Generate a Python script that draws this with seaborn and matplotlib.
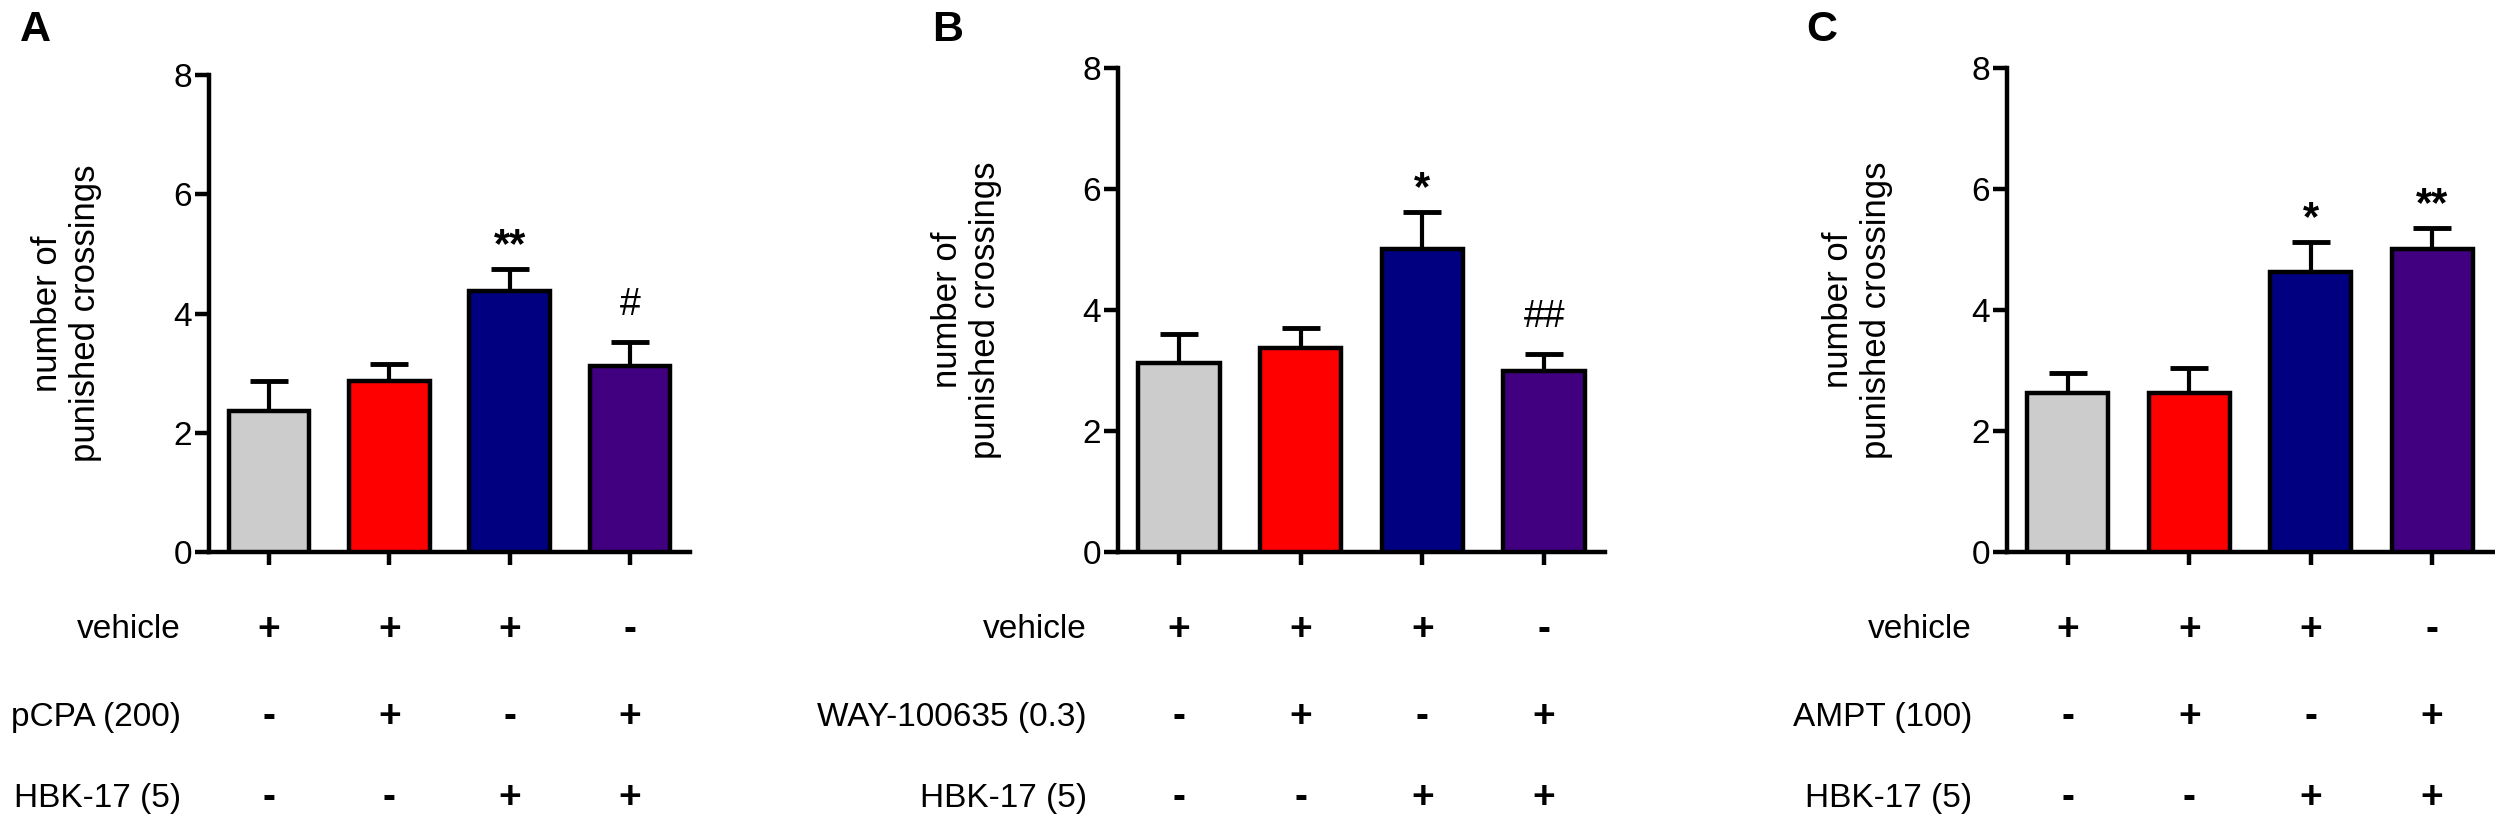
import matplotlib
matplotlib.use("Agg")
import matplotlib.pyplot as plt
import matplotlib.transforms as mtransforms
import seaborn as sns
import pandas as pd

# -------------------------------
# Data
# -------------------------------
groups = ["g1", "g2", "g3", "g4"]
bar_colors = ["#CCCCCC", "#FF0000", "#000080", "#400080"]

a_mean = [2.37, 2.87, 4.37, 3.12]
a_sem = [0.49, 0.29, 0.38, 0.40]
a_sig = ["", "", "**", "#"]

b_mean = [3.12, 3.37, 5.00, 3.00]
b_sem = [0.48, 0.33, 0.62, 0.27]
b_sig = ["", "", "*", "##"]

c_mean = [2.63, 2.63, 4.62, 5.00]
c_sem = [0.33, 0.41, 0.50, 0.36]
c_sig = ["", "", "*", "**"]

vehicle_row = ["+", "+", "+", "-"]
drug_row = ["-", "+", "-", "+"]
hbk_row = ["-", "-", "+", "+"]

a_rows = ["vehicle", "pCPA (200)", "HBK-17 (5)"]
b_rows = ["vehicle", "WAY-100635 (0.3)", "HBK-17 (5)"]
c_rows = ["vehicle", "AMPT (100)", "HBK-17 (5)"]

panel_letters = ["A", "B", "C"]
y_ticks = [0, 2, 4, 6, 8]

# -------------------------------
# Setup
# -------------------------------
sns.set_style("ticks", {"axes.edgecolor": "black", "text.color": "black",
                        "xtick.color": "black", "ytick.color": "black",
                        "axes.labelcolor": "black"})
plt.rcParams["font.family"] = ["Liberation Sans", "DejaVu Sans"]

W, H = 2495, 822
fig = plt.figure(figsize=(W / 100, H / 100), dpi=100)

# axes rectangles in pixels: left, top, right, bottom
boxes = [(209, 75, 690, 552), (1118, 68, 1605, 552), (2007, 68, 2493, 552)]
row_label_x = [181, 1087, 1972]
letter_x = [20, 932, 1806]
ylabel_x = [-0.223, -0.238, -0.235]
row_y = [630, 717, 798]

panels = [
    (a_mean, a_sem, a_sig, a_rows),
    (b_mean, b_sem, b_sig, b_rows),
    (c_mean, c_sem, c_sig, c_rows),
]

for i, (means, sems, sigs, row_names) in enumerate(panels):
    l, t, r, b = boxes[i]
    ax = fig.add_axes([l / W, 1 - b / H, (r - l) / W, (b - t) / H])

    df = pd.DataFrame({"group": groups, "value": means})
    sns.barplot(data=df, x="group", y="value", hue="group", palette=bar_colors,
                order=groups, legend=False, width=0.67, edgecolor="black",
                linewidth=3.2, errorbar=None, saturation=1, ax=ax, zorder=3)
    ax.errorbar(range(len(groups)), means, yerr=[[0] * len(sems), sems],
                fmt="none", ecolor="black", elinewidth=3, capsize=14,
                capthick=3.5, zorder=2)

    # significance marks
    for j, s in enumerate(sigs):
        if not s:
            continue
        top = means[j] + sems[j]
        if "*" in s:
            ax.text(j, top + 0.2, s, ha="center", va="baseline",
                    fontsize=30, fontweight="bold")
        else:
            ax.text(j, top + 0.45, s, ha="center", va="baseline", fontsize=27)

    ax.set_xlim(-0.5, 3.5)
    ax.set_ylim(0, 8)
    ax.set_yticks(y_ticks)
    ax.set_xticks(range(len(groups)))
    ax.set_xticklabels([])
    ax.set_xlabel("")
    ax.set_ylabel("number of\npunished crossings", fontsize=25, linespacing=1.2)
    ax.yaxis.set_label_coords(ylabel_x[i], 0.5)
    sns.despine(ax=ax)
    ax.spines["left"].set_bounds(0, 8)
    ax.spines["left"].set_linewidth(3.2)
    ax.spines["bottom"].set_linewidth(3.2)
    ax.tick_params(axis="y", direction="out", length=10, width=3.2,
                   labelsize=24, pad=2)
    ax.tick_params(axis="x", direction="out", length=9, width=3.2)

    # treatment rows under the axis
    trans = mtransforms.blended_transform_factory(ax.transData, fig.transFigure)
    for k, (name, signs) in enumerate(zip(row_names, [vehicle_row, drug_row, hbk_row])):
        fy = 1 - row_y[k] / H
        fig.text(row_label_x[i] / W, fy, name, ha="right", va="center", fontsize=24)
        for j, sgn in enumerate(signs):
            ax.text(j, fy, sgn, transform=trans, ha="center", va="center",
                    fontsize=28, fontweight="bold")

    fig.text(letter_x[i] / W, 1 - 10 / H, panel_letters[i], ha="left", va="top",
             fontsize=31, fontweight="bold")

plt.savefig("out.png", dpi=100)
plt.close()
